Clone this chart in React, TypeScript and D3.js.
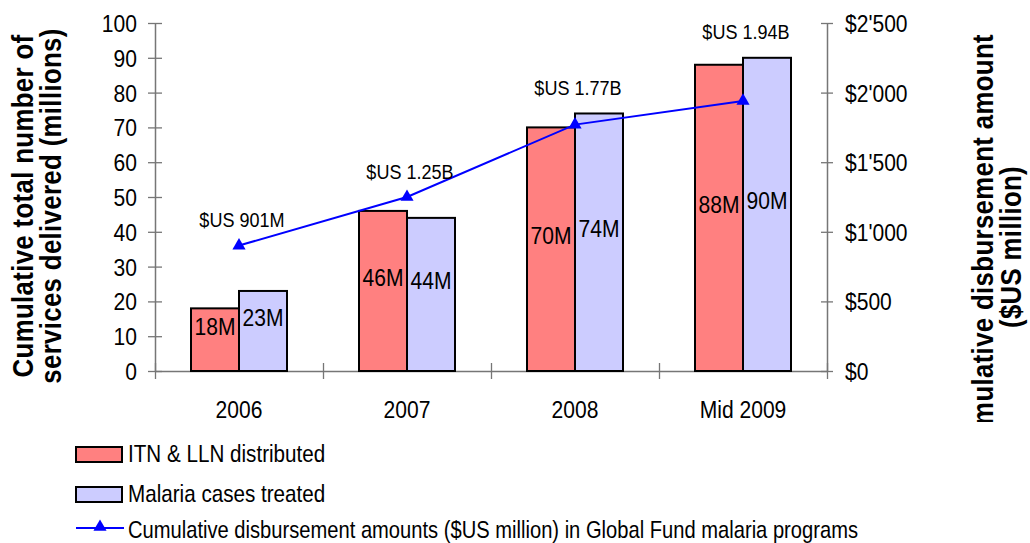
import { useEffect, useRef } from 'react';
import * as d3 from 'd3';

const categories = ['2006', '2007', '2008', 'Mid 2009'];
const itnDistributed = [18, 46, 70, 88];
const casesTreated = [23, 44, 74, 90];
const disbursement = [901, 1250, 1770, 1940];
const disbursementLabels = ['$US 901M', '$US 1.25B', '$US 1.77B', '$US 1.94B'];
const leftTicks = [0, 10, 20, 30, 40, 50, 60, 70, 80, 90, 100];
const rightTicks = [0, 500, 1000, 1500, 2000, 2500];
const seriesNames = [
  'ITN & LLN distributed',
  'Malaria cases treated',
  'Cumulative disbursement amounts ($US million) in Global Fund malaria programs',
];

const FONT = "'Liberation Sans', Arial, sans-serif";
const CX = 0.86; // narrow look of the original font

const App = () => {
  const ref = useRef<SVGSVGElement>(null);

  useEffect(() => {
    const width = 1030;
    const height = 543;
    const margin = { top: 23, right: 203, bottom: 172, left: 155 };
    const cw = width - margin.left - margin.right;
    const ch = height - margin.top - margin.bottom;

    const svg = d3.select(ref.current);
    svg.selectAll('*').remove();
    svg.attr('width', width).attr('height', height).style('font-family', FONT);

    const g = svg.append('g').attr('transform', `translate(${margin.left},${margin.top})`);

    const x = d3.scaleBand().domain(categories).range([0, cw]).padding(0);
    const xs = d3.scaleBand().domain(['itn', 'cases']).range([0, x.bandwidth()]).paddingInner(0).paddingOuter(0.75);
    const y = d3.scaleLinear().domain([0, 100]).range([ch, 0]);
    const y2 = d3.scaleLinear().domain([0, 2500]).range([ch, 0]);
    const edges = d3.scaleLinear().domain([0, categories.length]).range([0, cw]);

    const axisColor = '#767676';

    // left axis
    const ga = g.append('g').call(d3.axisLeft(y).tickValues(leftTicks).tickSizeInner(7).tickSizeOuter(0));
    ga.select('.domain').attr('stroke', axisColor).attr('stroke-width', 1.5);
    ga.selectAll('line').attr('stroke', axisColor).attr('stroke-width', 1.3).attr('x1', 7).attr('x2', -7);
    ga.selectAll('text')
      .attr('x', 0)
      .attr('dy', '0.35em')
      .attr('transform', `translate(-18,0) scale(${CX},1)`)
      .attr('fill', '#000')
      .style('font-size', '24.5px')
      .style('font-family', FONT);

    // right axis
    const fmt = (d: number) => '$' + d3.format(',')(d).replace(/,/g, "'");
    const gr = g
      .append('g')
      .attr('transform', `translate(${cw},0)`)
      .call(d3.axisRight(y2).tickValues(rightTicks).tickFormat((d) => fmt(+d)).tickSizeInner(6).tickSizeOuter(0));
    gr.select('.domain').attr('stroke', axisColor).attr('stroke-width', 1.5);
    gr.selectAll('line').attr('stroke', axisColor).attr('stroke-width', 1.3).attr('x1', -6).attr('x2', 6);
    gr.selectAll('text')
      .attr('x', 0)
      .attr('dy', '0.35em')
      .attr('transform', `translate(18,0) scale(${CX},1)`)
      .attr('fill', '#000')
      .attr('text-anchor', 'start')
      .style('font-size', '24.5px')
      .style('font-family', FONT);

    // bottom axis: boundary ticks
    const gb = g
      .append('g')
      .attr('transform', `translate(0,${ch})`)
      .call(d3.axisBottom(edges).tickValues(d3.range(categories.length + 1)).tickFormat(() => '').tickSizeOuter(0));
    gb.select('.domain').attr('stroke', axisColor).attr('stroke-width', 1.5);
    gb.selectAll('line').attr('stroke', axisColor).attr('stroke-width', 1.3).attr('y1', -8).attr('y2', 8);

    // bottom axis: category labels
    const gc = g
      .append('g')
      .attr('transform', `translate(0,${ch})`)
      .call(d3.axisBottom(x).tickSize(0));
    gc.select('.domain').remove();
    gc.selectAll('text')
      .attr('y', 0)
      .attr('dy', 0)
      .attr('transform', `translate(0,47) scale(${CX},1)`)
      .attr('fill', '#000')
      .style('font-size', '24.5px')
      .style('font-family', FONT);

    // bars
    const series = [
      { key: 'itn', values: itnDistributed, color: '#FF8080' },
      { key: 'cases', values: casesTreated, color: '#CCCCFF' },
    ];
    series.forEach((s) => {
      g.selectAll(`rect.bar-${s.key}`)
        .data(s.values)
        .enter()
        .append('rect')
        .attr('x', (_, i) => (x(categories[i]) as number) + (xs(s.key) as number))
        .attr('y', (d) => y(d))
        .attr('width', xs.bandwidth())
        .attr('height', (d) => ch - y(d))
        .attr('fill', s.color)
        .attr('stroke', '#000')
        .attr('stroke-width', 2);

      g.selectAll(`text.lab-${s.key}`)
        .data(s.values)
        .enter()
        .append('text')
        .attr('text-anchor', 'middle')
        .attr('transform', (d, i) => {
          const cx = (x(categories[i]) as number) + (xs(s.key) as number) + xs.bandwidth() / 2;
          const cy = (y(d) + ch) / 2 - 14 + 9;
          return `translate(${cx},${cy}) scale(${CX},1)`;
        })
        .style('font-size', '24.5px')
        .attr('fill', '#000')
        .text((d) => `${d}M`);
    });

    // line
    const px = (i: number) => (x(categories[i]) as number) + x.bandwidth() / 2;
    const line = d3
      .line<number>()
      .x((_, i) => px(i))
      .y((d) => y2(d));
    g.append('path').datum(disbursement).attr('d', line).attr('fill', 'none').attr('stroke', '#0000FF').attr('stroke-width', 2);
    const tri = d3.symbol().type(d3.symbolTriangle).size(75);
    g.selectAll('path.marker')
      .data(disbursement)
      .enter()
      .append('path')
      .attr('d', tri)
      .attr('transform', (d, i) => `translate(${px(i)},${y2(d)})`)
      .attr('fill', '#0000FF');

    g.selectAll('text.linelab')
      .data(disbursement)
      .enter()
      .append('text')
      .attr('text-anchor', 'middle')
      .attr('transform', (d, i) => {
        const top = Math.min(y2(d), y(itnDistributed[i]), y(casesTreated[i]));
        return `translate(${px(i) + 3},${top - 26 + 7.5}) scale(${CX},1)`;
      })
      .style('font-size', '21px')
      .attr('fill', '#000')
      .text((_, i) => disbursementLabels[i]);

    // axis titles
    const titleStyle = (t: d3.Selection<SVGTextElement, unknown, null, undefined>) =>
      t.attr('text-anchor', 'middle').style('font-size', '30px').style('font-weight', 'bold').attr('fill', '#000');
    [
      { text: 'Cumulative total number of', bx: 33 },
      { text: 'services delivered (millions)', bx: 61 },
    ].forEach((l) => {
      svg
        .append('text')
        .attr('transform', `translate(${l.bx},206) rotate(-90) scale(${CX},1)`)
        .call(titleStyle)
        .style('letter-spacing', '0.4px')
        .text(l.text);
    });
    svg
      .append('clipPath')
      .attr('id', 'rtclip')
      .append('rect')
      .attr('x', 940)
      .attr('y', 0)
      .attr('width', 90)
      .attr('height', 422);
    const rt = svg.append('g').attr('clip-path', 'url(#rtclip)');
    [
      { text: 'Cumulative disbursement amount', bx: 993 },
      { text: '($US million)', bx: 1021 },
    ].forEach((l) => {
      rt.append('text')
        .attr('transform', `translate(${l.bx},247) rotate(-90) scale(${CX},1)`)
        .call(titleStyle)
        .style('letter-spacing', '0.4px')
        .text(l.text);
    });

    // legend
    const leg = svg.append('g');
    const lx = 76;
    const rowsY = [454, 494, 530];
    [series[0].color, series[1].color].forEach((c, i) => {
      leg.append('rect')
        .attr('x', lx)
        .attr('y', rowsY[i] - 7)
        .attr('width', 46)
        .attr('height', 15)
        .attr('fill', c)
        .attr('stroke', '#000')
        .attr('stroke-width', 2);
    });
    leg.append('line')
      .attr('x1', lx)
      .attr('x2', lx + 48)
      .attr('y1', rowsY[2] - 2)
      .attr('y2', rowsY[2] - 2)
      .attr('stroke', '#0000FF')
      .attr('stroke-width', 2);
    leg.append('path')
      .attr('d', tri)
      .attr('transform', `translate(${lx + 24},${rowsY[2] - 3})`)
      .attr('fill', '#0000FF');
    seriesNames.forEach((name, i) => {
      const t = leg.append('text')
        .attr('transform', `translate(128,${rowsY[i] + 8}) scale(${CX},1)`)
        .style('font-size', '24px')
        .attr('fill', '#000')
        .text(name);
      if (i === 2) t.attr('textLength', 730 / CX).attr('lengthAdjust', 'spacingAndGlyphs');
    });
  }, []);

  return <svg ref={ref} style={{ position: 'absolute', left: 0, top: 0, background: '#fff' }}></svg>;
};

export default App;
